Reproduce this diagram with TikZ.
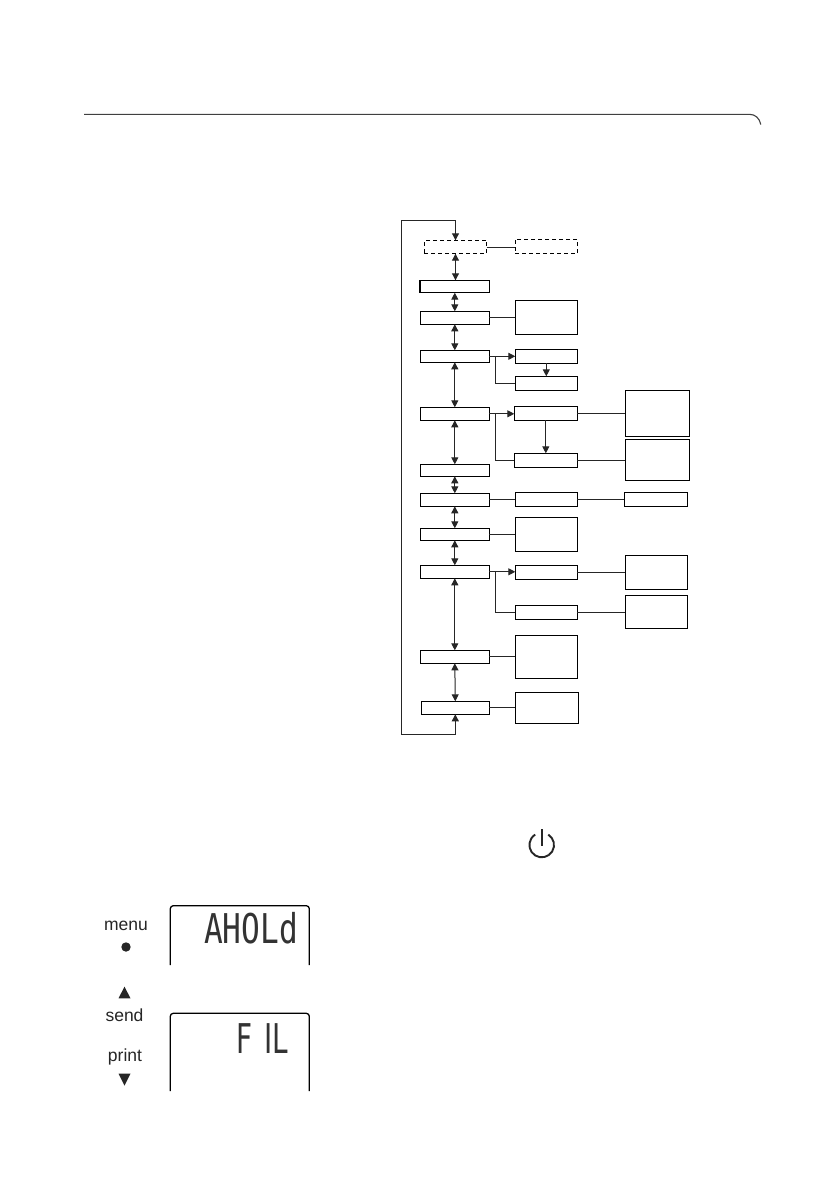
\documentclass[tikz,border=0pt]{standalone}
\usepackage{fontspec}
\setmainfont{Liberation Sans}
\newfontfamily\lcdmono{DejaVu Sans Mono}
\newfontfamily\lcdsans{DejaVu Sans}
\usetikzlibrary{arrows.meta}
\newcommand\pbox[6][boxs]{\node[#1,minimum width={(#5-#3)*1pt},minimum height={(#6-#4)*1pt}] (#2) at ({(#3+#5)/2},{(#4+#6)/2}) {};}
\tikzset{
  boxs/.style={draw=black,fill=white,line width=1pt,inner sep=0pt,outer sep=0pt},
  dashbox/.style={boxs,dashed,dash pattern=on 4pt off 3pt},
  link/.style={draw=black!85,line width=1pt},
  one/.style={link,-{Triangle[length=7pt,width=7pt]}},
  two/.style={link,{Triangle[length=7pt,width=7pt]}-{Triangle[length=7pt,width=7pt]}},
  lab/.style={anchor=base,font=\fontsize{17.5}{19}\selectfont,text=black!85,inner sep=0pt},
  lcd/.style={anchor=base east,text=black!80,inner sep=0pt},
  frame/.style={draw=black,line width=1.3pt,rounded corners=3pt}
}
\begin{document}
\begin{tikzpicture}[x=1pt,y=-1pt]
\useasboundingbox (0,0) rectangle (838,1190);
\fill[white] (0,0) rectangle (838,1190);
% header rule
\draw[draw=black!75,line width=1.1pt] (84,114.4) -- (750,114.4) .. controls (755,114.4) and (759.5,118) .. (760.8,124.5);
% left column
\pbox[dashbox]{d1}{424.3}{240.3}{486.7}{253.7}
\pbox{b1}{420.3}{280.3}{489.3}{292.7}
\pbox{b2}{420.3}{311.3}{489.3}{324.3}
\pbox{b3}{420.3}{350.3}{489.3}{362.3}
\pbox{b4}{420.3}{407.3}{489.3}{420.3}
\pbox{b5}{420.3}{464.3}{489.3}{476.3}
\pbox{b6}{420.3}{493.3}{489.3}{506.3}
\pbox{b7}{420.3}{528.3}{489.3}{540.3}
\pbox{b8}{420.3}{565.3}{489.3}{578.3}
\pbox{b9}{420.3}{650.3}{489.3}{663.3}
\pbox{b10}{421.3}{701.3}{489.3}{714.3}
\draw[line width=1.8pt] (b1.north west) -- (b1.south west);
% middle column
\pbox[dashbox]{d2}{515}{239.3}{577.3}{253.7}
\pbox{s2}{515.3}{300.3}{577.3}{334.3}
\pbox{r3a}{515.3}{349.3}{577.3}{363.3}
\pbox{r3b}{515.3}{376.3}{577.3}{390.3}
\pbox{r4a}{514.3}{406.3}{577.3}{420.3}
\pbox{r4b}{514.3}{453.3}{577.3}{467.3}
\pbox{r6}{515.3}{492.3}{577.3}{506.3}
\pbox{s7}{515.3}{517.3}{577.3}{551.3}
\pbox{r8a}{515.3}{565.3}{577.3}{579.3}
\pbox{r8b}{515.3}{605.3}{577.3}{619.3}
\pbox{s9}{515.3}{635.3}{577.3}{678.3}
\pbox{s10}{515.3}{692.3}{578.3}{723.3}
% right column
\pbox{q4a}{625.3}{390.3}{689.3}{436.3}
\pbox{q4b}{625.3}{439.3}{689.3}{480.3}
\pbox{q6}{624.3}{492.3}{687.3}{506.3}
\pbox{q8a}{625.3}{555.3}{687.3}{589.3}
\pbox{q8b}{625.3}{595.3}{687.3}{628.3}
% loop corners and junctions
\coordinate (lb) at (401.3,734.3);
\coordinate (lt) at (401.3,220.3);
\coordinate (j3) at (495.3,356.3);
\coordinate (j4) at (495.3,413.8);
\coordinate (j8) at (495.3,571.8);
% outer loop
\draw[two] (b10.south) |- (lb) -- (lt) -| (d1.north);
% vertical double arrows
\draw[two] (d1.south) -- (d1.south |- b1.north);
\draw[two] (b1.south) -- (b2.north);
\draw[two] (b2.south) -- (b3.north);
\draw[two] (b3.south) -- (b4.north);
\draw[two] (b4.south) -- (b5.north);
\draw[two] (b5.south) -- (b6.north);
\draw[two] (b6.south) -- (b7.north);
\draw[two] (b7.south) -- (b8.north);
\draw[two] (b8.south) -- (b9.north);
\draw[two] (b9.south) -- (b10.north);
% horizontal links
\draw[link] (d1.east) -- (d1.east -| d2.west);
\draw[link] (b2.east) -- (b2.east -| s2.west);
\draw[one] (b3.east) -- (b3.east -| r3a.west);
\draw[link] (j3) |- (r3b.west);
\draw[one] (r3a.south) -- (r3b.north);
\draw[one] (b4.east) -- (b4.east -| r4a.west);
\draw[link] (j4) |- (r4b.west);
\draw[one] (r4a.south) -- (r4b.north);
\draw[link] (r4a.east) -- (r4a.east -| q4a.west);
\draw[link] (r4b.east) -- (r4b.east -| q4b.west);
\draw[link] (b6.east) -- (b6.east -| r6.west);
\draw[link] (r6.east) -- (q6.west);
\draw[link] (b7.east) -- (b7.east -| s7.west);
\draw[one] (b8.east) -- (b8.east -| r8a.west);
\draw[link] (j8) |- (r8b.west);
\draw[link] (r8a.east) -- (r8a.east -| q8a.west);
\draw[link] (r8b.east) -- (r8b.east -| q8b.west);
\draw[link] (b9.east) -- (b9.east -| s9.west);
\draw[link] (b10.east) -- (b10.east -| s10.west);
% power icon
\draw[draw=black!85,line width=1.9pt] (541.7,829) -- (541.7,845.7);
\draw[draw=black!85,line width=1.9pt] (541.7,845) ++(-58:12.3) arc[start angle=-58,end angle=238,radius=12.3];
% keys
\node[lab] (kmenu) at (126,930) {menu};
\fill[black!85] (126,947) circle (4.7);
\fill[black!85] (124.5,986.7) -- (130.5,998.3) -- (118.5,998.3) -- cycle;
\node[lab] (ksend) at (124.5,1021.7) {send};
\node[lab] (kprint) at (125,1061.7) {print};
\fill[black!85] (118.5,1073.5) -- (130.5,1073.5) -- (124.5,1085.7) -- cycle;
% displays
\draw[frame] (170.3,965) -- (170.3,905.7) -- (309.3,905.7) -- (309.3,965);
\draw[frame] (170.3,1091) -- (170.3,1013.3) -- (309.3,1013.3) -- (309.3,1091);
\node[lcd] (t1) at (298,943.3) {\fontsize{41}{41}\lcdmono\scalebox{0.76}[1]{AHOLd}};
\node[lcd] (t2) at (288.5,1053) {\fontsize{41}{41}\lcdsans\scalebox{0.68}[1]{F\hspace{0.42em}IL}};
\end{tikzpicture}
\end{document}
